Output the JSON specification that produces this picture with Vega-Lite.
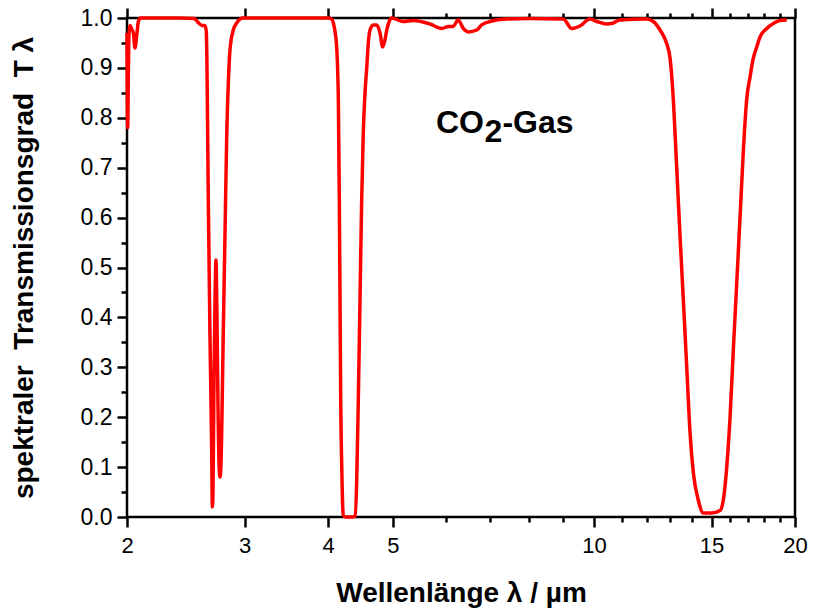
{
  "$schema": "https://vega.github.io/schema/vega-lite/v6.json",
  "width": 668,
  "height": 499,
  "autosize": {"type": "none"},
  "padding": {"left": 127, "top": 18, "right": 18, "bottom": 92},
  "background": "white",
  "config": {
    "font": "Liberation Sans",
    "view": {"stroke": "black", "strokeWidth": 2.5},
    "axis": {"grid": false, "domain": false, "tickColor": "black", "tickWidth": 2.5, "labelColor": "black", "titleColor": "black", "labelFont": "Liberation Sans", "titleFont": "Liberation Sans"}
  },
  "data": {"values": [
    {"lam": 2.000, "T": 0.97}, {"lam": 2.003, "T": 0.80}, {"lam": 2.005, "T": 0.78}, {"lam": 2.009, "T": 0.88},
    {"lam": 2.014, "T": 0.97}, {"lam": 2.021, "T": 0.985}, {"lam": 2.032, "T": 0.978}, {"lam": 2.044, "T": 0.97},
    {"lam": 2.056, "T": 0.94}, {"lam": 2.068, "T": 0.965}, {"lam": 2.080, "T": 0.993}, {"lam": 2.095, "T": 1.0},
    {"lam": 2.2, "T": 1.0}, {"lam": 2.4, "T": 1.0}, {"lam": 2.52, "T": 0.999}, {"lam": 2.56, "T": 0.99},
    {"lam": 2.59, "T": 0.985}, {"lam": 2.615, "T": 0.985}, {"lam": 2.628, "T": 0.975}, {"lam": 2.635, "T": 0.90},
    {"lam": 2.638, "T": 0.836}, {"lam": 2.647, "T": 0.635}, {"lam": 2.662, "T": 0.367}, {"lam": 2.678, "T": 0.134},
    {"lam": 2.684, "T": 0.02}, {"lam": 2.690, "T": 0.05}, {"lam": 2.699, "T": 0.27}, {"lam": 2.710, "T": 0.45},
    {"lam": 2.718, "T": 0.515}, {"lam": 2.726, "T": 0.42}, {"lam": 2.737, "T": 0.22}, {"lam": 2.748, "T": 0.10},
    {"lam": 2.756, "T": 0.08}, {"lam": 2.764, "T": 0.10}, {"lam": 2.772, "T": 0.17}, {"lam": 2.787, "T": 0.37},
    {"lam": 2.804, "T": 0.57}, {"lam": 2.821, "T": 0.77}, {"lam": 2.836, "T": 0.87}, {"lam": 2.852, "T": 0.935},
    {"lam": 2.885, "T": 0.976}, {"lam": 2.919, "T": 0.99}, {"lam": 2.984, "T": 1.0}, {"lam": 3.2, "T": 1.0},
    {"lam": 3.6, "T": 1.0}, {"lam": 4.0, "T": 1.0}, {"lam": 4.05, "T": 0.998}, {"lam": 4.073, "T": 0.99},
    {"lam": 4.10, "T": 0.97}, {"lam": 4.121, "T": 0.94}, {"lam": 4.144, "T": 0.836}, {"lam": 4.158, "T": 0.635},
    {"lam": 4.168, "T": 0.435}, {"lam": 4.178, "T": 0.234}, {"lam": 4.193, "T": 0.10}, {"lam": 4.207, "T": 0.02},
    {"lam": 4.215, "T": 0.003}, {"lam": 4.25, "T": 0.0}, {"lam": 4.30, "T": 0.0}, {"lam": 4.35, "T": 0.0},
    {"lam": 4.389, "T": 0.002}, {"lam": 4.414, "T": 0.068}, {"lam": 4.439, "T": 0.234}, {"lam": 4.465, "T": 0.435},
    {"lam": 4.491, "T": 0.635}, {"lam": 4.516, "T": 0.77}, {"lam": 4.543, "T": 0.85}, {"lam": 4.570, "T": 0.90},
    {"lam": 4.595, "T": 0.95}, {"lam": 4.622, "T": 0.976}, {"lam": 4.675, "T": 0.986}, {"lam": 4.730, "T": 0.986},
    {"lam": 4.784, "T": 0.97}, {"lam": 4.829, "T": 0.942}, {"lam": 4.867, "T": 0.956}, {"lam": 4.897, "T": 0.976},
    {"lam": 4.941, "T": 0.994}, {"lam": 4.981, "T": 1.0}, {"lam": 5.184, "T": 0.993}, {"lam": 5.366, "T": 0.995},
    {"lam": 5.684, "T": 0.988}, {"lam": 5.918, "T": 0.979}, {"lam": 6.054, "T": 0.983}, {"lam": 6.152, "T": 0.983},
    {"lam": 6.266, "T": 0.996}, {"lam": 6.374, "T": 0.979}, {"lam": 6.486, "T": 0.972}, {"lam": 6.676, "T": 0.976},
    {"lam": 6.792, "T": 0.986}, {"lam": 6.988, "T": 0.993}, {"lam": 7.404, "T": 0.998}, {"lam": 8.0, "T": 0.999},
    {"lam": 8.998, "T": 0.998}, {"lam": 9.264, "T": 0.979}, {"lam": 9.532, "T": 0.984}, {"lam": 9.866, "T": 0.998},
    {"lam": 10.10, "T": 0.993}, {"lam": 10.45, "T": 0.988}, {"lam": 10.69, "T": 0.99}, {"lam": 10.94, "T": 0.996},
    {"lam": 12.00, "T": 0.998}, {"lam": 12.27, "T": 0.993}, {"lam": 12.56, "T": 0.976}, {"lam": 12.85, "T": 0.949},
    {"lam": 13.00, "T": 0.92}, {"lam": 13.15, "T": 0.836}, {"lam": 13.30, "T": 0.702}, {"lam": 13.45, "T": 0.569},
    {"lam": 13.61, "T": 0.435}, {"lam": 13.77, "T": 0.301}, {"lam": 13.93, "T": 0.168}, {"lam": 14.09, "T": 0.088},
    {"lam": 14.33, "T": 0.034}, {"lam": 14.58, "T": 0.008}, {"lam": 15.0, "T": 0.008}, {"lam": 15.45, "T": 0.013},
    {"lam": 15.62, "T": 0.034}, {"lam": 15.81, "T": 0.101}, {"lam": 15.99, "T": 0.201}, {"lam": 16.17, "T": 0.335},
    {"lam": 16.36, "T": 0.468}, {"lam": 16.55, "T": 0.602}, {"lam": 16.74, "T": 0.735}, {"lam": 16.93, "T": 0.836},
    {"lam": 17.13, "T": 0.882}, {"lam": 17.32, "T": 0.919}, {"lam": 17.53, "T": 0.942}, {"lam": 17.73, "T": 0.962},
    {"lam": 18.14, "T": 0.979}, {"lam": 18.56, "T": 0.989}, {"lam": 18.99, "T": 0.995}, {"lam": 19.44, "T": 0.996}
  ]},
  "layer": [
    {
      "mark": {"type": "line", "color": "#ff0000", "strokeWidth": 3.5, "interpolate": "monotone", "clip": false},
      "encoding": {
        "x": {"field": "lam", "type": "quantitative", "scale": {"type": "log", "domain": [2, 20], "nice": false},
          "axis": {"orient": "bottom", "values": [2, 3, 4, 5, 10, 15, 20], "format": "d", "tickSize": 10, "labelPadding": 8,
            "labelFontSize": 22, "labelFlush": false, "labelOverlap": false, "labelBound": false,
            "title": "Wellenlänge λ / µm", "titleFontSize": 28, "titleFontWeight": "bold", "titlePadding": 23}},
        "y": {"field": "T", "type": "quantitative", "scale": {"domain": [0, 1], "nice": false, "zero": false},
          "axis": {"orient": "left", "values": [0, 0.1, 0.2, 0.3, 0.4, 0.5, 0.6, 0.7, 0.8, 0.9, 1.0], "format": ".1f", "tickSize": 10,
            "labelPadding": 5, "labelFontSize": 23, "labelFlush": false, "labelOverlap": false, "labelBound": false,
            "title": "spektraler\u00a0\u00a0Transmissionsgrad\u00a0\u00a0T\u00a0λ", "titleFontSize": 28, "titleFontWeight": "bold", "titlePadding": 42}}
      }
    },
    {
      "mark": {"type": "line", "opacity": 0},
      "encoding": {
        "x": {"field": "lam", "type": "quantitative",
          "axis": {"orient": "bottom", "values": [6, 7, 8, 9, 11, 12, 13, 14, 16, 17, 18, 19], "tickSize": 5, "labels": false, "title": null}},
        "y": {"field": "T", "type": "quantitative",
          "axis": {"orient": "left", "values": [0.05, 0.15, 0.25, 0.35, 0.45, 0.55, 0.65, 0.75, 0.85, 0.95], "tickSize": 6, "labels": false, "title": null}}
      }
    },
    {
      "mark": {"type": "line", "opacity": 0},
      "encoding": {
        "x": {"field": "lam", "type": "quantitative",
          "axis": {"orient": "top", "values": [2, 3, 4, 5, 10, 15, 20], "tickSize": 10, "labels": false, "title": null}},
        "y": {"field": "T", "type": "quantitative", "axis": null}
      }
    },
    {
      "mark": {"type": "line", "opacity": 0},
      "encoding": {
        "x": {"field": "lam", "type": "quantitative",
          "axis": {"orient": "top", "values": [6, 7, 8, 9, 11, 12, 13, 14, 16, 17, 18, 19], "tickSize": 5, "labels": false, "title": null}},
        "y": {"field": "T", "type": "quantitative", "axis": null}
      }
    },
    {
      "data": {"values": [{}]},
      "mark": {"type": "text", "text": "CO", "fontSize": 32, "fontWeight": "bold", "align": "left", "baseline": "middle", "color": "black"},
      "encoding": {
        "x": {"datum": 5.80, "type": "quantitative", "axis": null},
        "y": {"datum": 0.79, "type": "quantitative", "axis": null}
      }
    },
    {
      "data": {"values": [{}]},
      "mark": {"type": "text", "text": "2", "fontSize": 32, "fontWeight": "bold", "align": "left", "baseline": "middle", "dx": 48.5, "dy": 9, "color": "black"},
      "encoding": {
        "x": {"datum": 5.80, "type": "quantitative", "axis": null},
        "y": {"datum": 0.79, "type": "quantitative", "axis": null}
      }
    },
    {
      "data": {"values": [{}]},
      "mark": {"type": "text", "text": "-Gas", "fontSize": 32, "fontWeight": "bold", "align": "left", "baseline": "middle", "dx": 66.5, "color": "black"},
      "encoding": {
        "x": {"datum": 5.80, "type": "quantitative", "axis": null},
        "y": {"datum": 0.79, "type": "quantitative", "axis": null}
      }
    }
  ],
  "resolve": {"axis": {"x": "independent", "y": "independent"}}
}
